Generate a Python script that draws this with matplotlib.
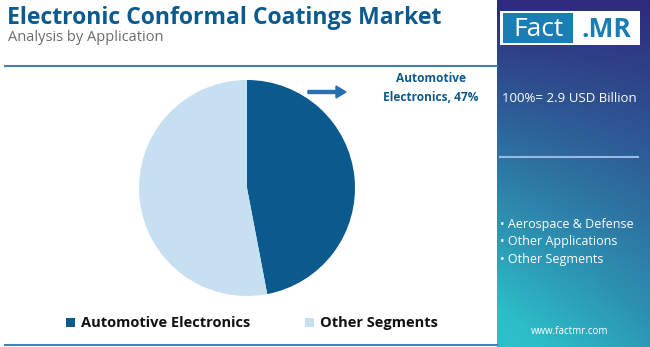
import matplotlib.pyplot as plt
import numpy as np
from matplotlib.patches import Rectangle, FancyArrow

segments = ['Automotive Electronics', 'Other Segments']
shares = [47, 53]
colors = ['#0b5a8e', '#c6e0f1']
bullets = ['Aerospace & Defense', 'Other Applications', 'Other Segments']

plt.rcParams['font.family'] = ['Open Sans', 'DejaVu Sans']

W, H = 650, 347
fig = plt.figure(figsize=(W / 100, H / 100), dpi=100)
bg = fig.add_axes([0, 0, 1, 1])
bg.set_xlim(0, W)
bg.set_ylim(H, 0)
bg.axis('off')

# right panel gradient
ny, nx = 100, 60
yy, xx = np.mgrid[0:1:ny * 1j, 0:1:nx * 1j]
t = np.clip(0.75 * yy + 0.35 * (1 - xx) * yy, 0, 1)
top = np.array([0x2f, 0x2a, 0x7c]) / 255
bot = np.array([0x2c, 0xbf, 0xc9]) / 255
img = top[None, None, :] * (1 - t[..., None]) + bot[None, None, :] * t[..., None]
bg.imshow(img, extent=[497, W, H, 0], aspect='auto', zorder=1)
bg.set_xlim(0, W)
bg.set_ylim(H, 0)

# logo
bg.add_patch(Rectangle((500, 11), 140, 34, facecolor='white', zorder=2))
bg.add_patch(Rectangle((503, 13), 70, 30, facecolor='#1a7db4', zorder=3))
bg.text(538, 29, 'Fact', color='white', fontsize=19, ha='center', va='center', zorder=4)
bg.text(606, 29, '.MR', color='#1a7db4', fontsize=19, fontweight='bold', ha='center', va='center', zorder=4)

bg.text(502, 98, '100%= 2.9 USD Billion', color='white', fontsize=9.5, va='center', zorder=4)
bg.plot([500, 638], [157, 157], color='#9ab8e6', lw=1.5, zorder=4)
for i, b in enumerate(bullets):
    bg.text(500, 224 + i * 17.5, '• ' + b, color='white', fontsize=9, va='center', zorder=4)
bg.text(570, 331, 'www.factmr.com', color='white', fontsize=7, ha='center', va='center', zorder=4)

# titles and rules
bg.text(7, 18, 'Electronic Conformal Coatings Market', color='#0d5a8e', fontsize=16.6,
        fontweight='bold', va='center')
bg.text(8, 37, 'Analysis by Application', color='#6b6b6b', fontsize=10.5, va='center')
bg.plot([5, 497], [66, 66], color='#3f82b8', lw=1.5)
bg.plot([5, 497], [345, 345], color='#3f82b8', lw=1.5)

# arrow and label
bg.add_patch(FancyArrow(308, 92, 28, 0, width=3, head_width=12, head_length=10,
                        color='#2a6fad', length_includes_head=False))
bg.text(431, 88, 'Automotive\nElectronics, 47%', color='#0d5a8e', fontsize=8.6,
        fontweight='bold', ha='center', va='center', linespacing=1.6)

# legend
for x, c, s in [(70, colors[0], segments[0]), (309, colors[1], segments[1])]:
    bg.add_patch(Rectangle((x - 4.5, 318), 9, 9, facecolor=c))
    bg.text(x + 11, 323, s, color='#111111', fontsize=10.5, fontweight='bold', va='center')

# pie
pie_ax = fig.add_axes([(247 - 110) / W, 1 - (188 + 110) / H, 220 / W, 220 / H])
pie_ax.pie(shares, colors=colors, startangle=90, counterclock=False, radius=1.0,
           wedgeprops=dict(linewidth=0))
pie_ax.set_xlim(-220 / 216, 220 / 216)
pie_ax.set_ylim(-220 / 216, 220 / 216)
pie_ax.set_aspect('auto')

fig.savefig('out.png', dpi=100)
